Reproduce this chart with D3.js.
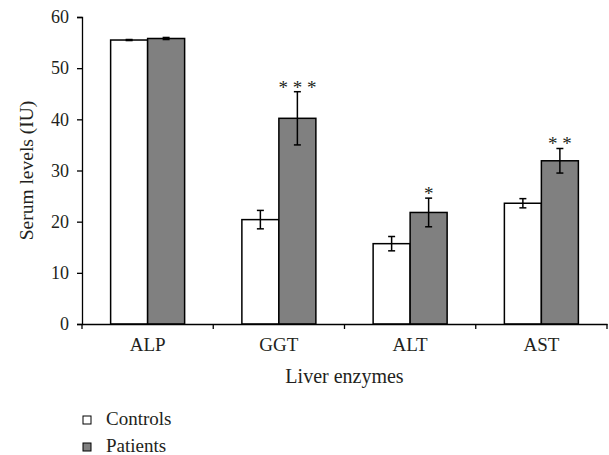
<!DOCTYPE html>
<meta charset="utf-8">
<style>
  body { margin: 0; background: #fff; }
  svg text { font-family: "Liberation Serif", "DejaVu Serif", serif !important; fill: #231f20; }
</style>
<body>
<script src="https://d3js.org/d3.v7.min.js"></script>
<script>

// data
var enzymes = ["ALP", "GGT", "ALT", "AST"];
var groups = ["Controls", "Patients"];
var controls = [55.5, 20.4, 15.7, 23.6];
var controlsErr = [0.1, 1.8, 1.4, 0.9];
var patients = [55.8, 40.2, 21.8, 31.9];
var patientsErr = [0.2, 5.2, 2.8, 2.4];
var stars = ["", "* * *", "*", "* *"];
var yTicks = [0, 10, 20, 30, 40, 50, 60];

var width = 609, height = 455;
var margin = {top: 17, right: 2, bottom: 131, left: 82};
var w = width - margin.left - margin.right,
    h = height - margin.top - margin.bottom;
var serif = "'Liberation Serif', 'DejaVu Serif', serif";

var rows = [];
enzymes.forEach(function(e, i) {
  rows.push({enzyme: e, group: "Controls", value: controls[i], err: controlsErr[i]});
  rows.push({enzyme: e, group: "Patients", value: patients[i], err: patientsErr[i]});
});

var x = d3.scaleBand().domain(enzymes).range([0, w]);
var bw = x.bandwidth();
var xs = d3.scaleBand().domain(groups).range([bw / 2 - 37, bw / 2 + 37]);
var y = d3.scaleLinear().domain([0, 60]).range([h, 0]);
var color = d3.scaleOrdinal().domain(groups).range(["#ffffff", "#808080"]);

var svg = d3.select("body").append("svg")
    .attr("width", width)
    .attr("height", height)
    .attr("font-family", serif)
  .append("g")
    .attr("transform", "translate(" + margin.left + "," + margin.top + ")");

// bars
svg.selectAll(".bar")
    .data(rows)
  .enter().append("rect")
    .attr("class", "bar")
    .attr("x", function(d) { return x(d.enzyme) + xs(d.group); })
    .attr("width", xs.bandwidth())
    .attr("y", function(d) { return y(d.value); })
    .attr("height", function(d) { return h - y(d.value); })
    .attr("fill", function(d) { return color(d.group); })
    .attr("stroke", "#000")
    .attr("stroke-width", 1.5);

// error bars
var eb = svg.selectAll(".err")
    .data(rows)
  .enter().append("g")
    .attr("class", "err")
    .attr("stroke", "#000")
    .attr("stroke-width", 1.5);
function cx(d) { return x(d.enzyme) + xs(d.group) + xs.bandwidth() / 2; }
eb.append("line")
    .attr("x1", cx).attr("x2", cx)
    .attr("y1", function(d) { return y(d.value + d.err); })
    .attr("y2", function(d) { return y(d.value - d.err); });
[1, -1].forEach(function(s) {
  eb.append("line")
      .attr("x1", function(d) { return cx(d) - 3.5; })
      .attr("x2", function(d) { return cx(d) + 3.5; })
      .attr("y1", function(d) { return y(d.value + s * d.err); })
      .attr("y2", function(d) { return y(d.value + s * d.err); });
});

// significance stars
svg.selectAll(".star")
    .data(enzymes)
  .enter().append("text")
    .attr("class", "star")
    .attr("text-anchor", "middle")
    .attr("x", function(d) { return x(d) + xs("Patients") + xs.bandwidth() / 2; })
    .attr("y", function(d, i) { return y(patients[i] + patientsErr[i]) + 2; })
    .style("font-size", "19px")
    .text(function(d, i) { return stars[i]; });

// y axis
var yAxis = svg.append("g")
    .call(d3.axisLeft(y).tickValues(yTicks).tickSize(5).tickPadding(8));
yAxis.attr("font-family", serif);
yAxis.select(".domain").attr("stroke", "#000").attr("stroke-width", 1.3);
yAxis.selectAll(".tick line").attr("stroke-width", 1.3);
yAxis.selectAll("text").style("font-size", "18px").attr("fill", "#231f20");

// x axis: labels centred, ticks at band edges
var xAxis = svg.append("g")
    .attr("transform", "translate(0," + h + ")")
    .call(d3.axisBottom(x).tickSize(0).tickSizeOuter(0));
xAxis.attr("font-family", serif);
xAxis.select(".domain").attr("stroke", "#000").attr("stroke-width", 1.3);
xAxis.selectAll("text")
    .attr("y", 27).attr("dy", 0)
    .style("font-size", "19px").attr("fill", "#231f20");
xAxis.selectAll(".edge")
    .data(enzymes.concat(["end"]))
  .enter().append("line")
    .attr("class", "edge")
    .attr("x1", function(d) { return d === "end" ? w : x(d); })
    .attr("x2", function(d) { return d === "end" ? w : x(d); })
    .attr("y1", 0).attr("y2", 5)
    .attr("stroke", "#000").attr("stroke-width", 1.3);

// axis titles
svg.append("text")
    .attr("text-anchor", "middle")
    .attr("transform", "translate(" + (-49) + "," + (h / 2) + ")rotate(-90)")
    .style("font-size", "19.5px")
    .text("Serum levels (IU)");

svg.append("text")
    .attr("text-anchor", "middle")
    .attr("x", w / 2).attr("y", h + 59)
    .style("font-size", "20px")
    .text("Liver enzymes");

// legend
var legend = svg.selectAll(".legend")
    .data(groups)
  .enter().append("g")
    .attr("class", "legend")
    .attr("transform", function(d, i) { return "translate(1," + (h + 92 + i * 27) + ")"; });
legend.append("rect")
    .attr("width", 8).attr("height", 8)
    .attr("fill", function(d) { return color(d); })
    .attr("stroke", "#000").attr("stroke-width", 1);
legend.append("text")
    .attr("x", 23).attr("y", 9)
    .style("font-size", "19px")
    .text(function(d) { return d; });

</script>
</body>
